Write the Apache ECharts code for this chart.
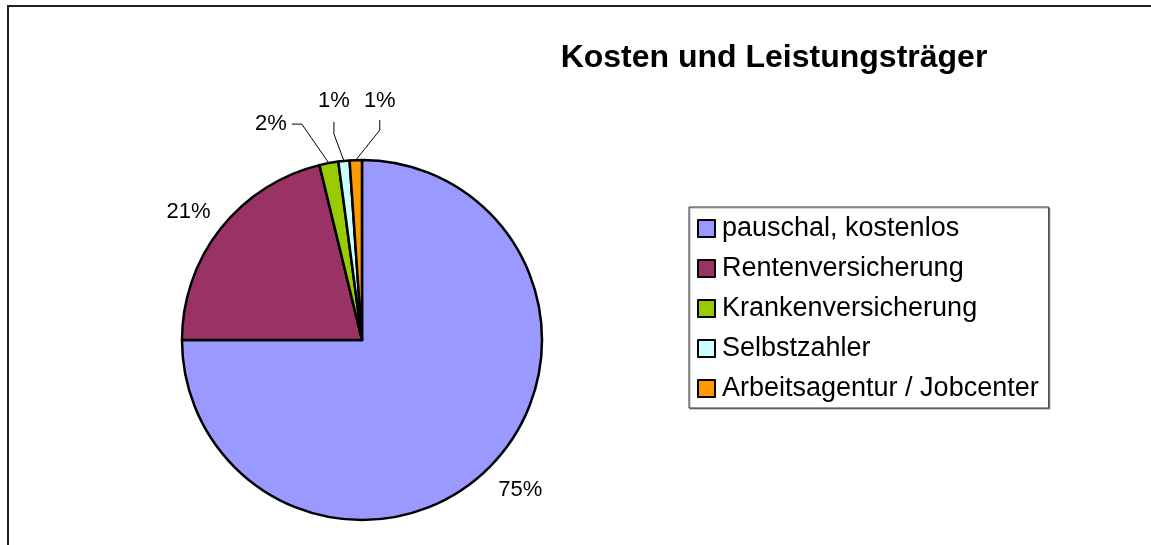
<!DOCTYPE html>
<html>
<head>
<meta charset="utf-8">
<title>Kosten und Leistungsträger</title>
<script src="https://cdn.jsdelivr.net/npm/echarts@6/dist/echarts.min.js"></script>
<style>
  html, body { margin: 0; padding: 0; background: #fff; }
  #chart { width: 1151px; height: 545px; }
</style>
</head>
<body>
<div id="chart"></div>
<script>
// Daten
const categories = ['pauschal, kostenlos', 'Rentenversicherung', 'Krankenversicherung', 'Selbstzahler', 'Arbeitsagentur / Jobcenter'];
const shares = [75.0, 21.2, 1.7, 1.0, 1.1];
const colors = ['#9999FF', '#993366', '#99CC00', '#CCFFFF', '#FF9900'];

// Lage der Beschriftungen relativ zum Randpunkt des Segments
const labelPlacement = [
  { dx: 31, dy: 23, align: 'center', line: null },
  { dx: -32, dy: -17, align: 'center', line: null },
  { dx: -42, dy: -39, align: 'right', line: [[-27, -39], [-37, -39]] },
  { dx: -10, dy: -60, align: 'center', line: [[-10, -27], [-10, -39]] },
  { dx: 24, dy: -59, align: 'center', line: [[24, -30], [24, -40]] }
];

const cx = 362, cy = 340, r = 180;
const total = shares.reduce((a, b) => a + b, 0);

// Randpunkt in der Mitte jedes Segments (Start oben, im Uhrzeigersinn)
const anchors = [];
let acc = 0;
shares.forEach(v => {
  const mid = (acc + v / 2) / total * 2 * Math.PI;
  anchors.push([cx + r * Math.sin(mid), cy - r * Math.cos(mid)]);
  acc += v;
});

const chart = echarts.init(document.getElementById('chart'));

const option = {
  animation: false,
  textStyle: { fontFamily: '"Liberation Sans", Arial, sans-serif' },
  title: {
    text: 'Kosten und Leistungsträger',
    left: 774,
    top: 42,
    textAlign: 'center',
    padding: 0,
    textStyle: {
      fontFamily: '"Liberation Sans", Arial, sans-serif',
      fontSize: 32,
      fontWeight: 'bold',
      color: '#000'
    }
  },
  legend: {
    orient: 'vertical',
    left: 689,
    top: 207,
    padding: [8, 10, 6, 8],
    itemGap: 13,
    itemWidth: 17,
    itemHeight: 17,
    icon: 'rect',
    selectedMode: false,
    borderColor: '#333',
    borderWidth: 1,
    backgroundColor: '#fff',
    shadowColor: 'rgba(0,0,0,0.35)',
    shadowOffsetX: 1,
    shadowOffsetY: 1,
    shadowBlur: 1,
    itemStyle: { borderColor: '#000', borderWidth: 2 },
    textStyle: {
      fontFamily: '"Liberation Sans", Arial, sans-serif',
      fontSize: 27,
      lineHeight: 27,
      color: '#000',
      padding: [0, 0, 0, 2]
    },
    data: categories
  },
  graphic: [
    {
      type: 'rect',
      silent: true,
      shape: { x: 8, y: 6, width: 1200, height: 600 },
      style: { fill: 'none', stroke: '#222', lineWidth: 2 }
    }
  ],
  series: [
    {
      type: 'pie',
      center: [cx, cy],
      radius: r,
      startAngle: 90,
      clockwise: true,
      avoidLabelOverlap: false,
      emphasis: { disabled: true },
      itemStyle: { borderColor: '#000', borderWidth: 2.5 },
      label: {
        show: true,
        position: 'outside',
        fontFamily: '"Liberation Sans", Arial, sans-serif',
        fontSize: 22,
        color: '#000',
        formatter: p => Math.round(p.percent) + '%'
      },
      labelLine: {
        show: true,
        length: 20,
        length2: 10,
        lineStyle: { color: '#000', width: 1 }
      },
      labelLayout: function (params) {
        const i = params.dataIndex;
        const pl = labelPlacement[i];
        const p0 = anchors[i];
        const out = {
          x: p0[0] + pl.dx,
          y: p0[1] + pl.dy,
          align: pl.align,
          verticalAlign: 'middle'
        };
        if (pl.line) {
          out.labelLinePoints = [p0].concat(pl.line.map(d => [p0[0] + d[0], p0[1] + d[1]]));
        }
        return out;
      },
      data: categories.map((name, i) => ({
        name: name,
        value: shares[i],
        itemStyle: { color: colors[i] },
        labelLine: { show: !!labelPlacement[i].line }
      }))
    }
  ]
};

chart.setOption(option);
</script>
</body>
</html>
